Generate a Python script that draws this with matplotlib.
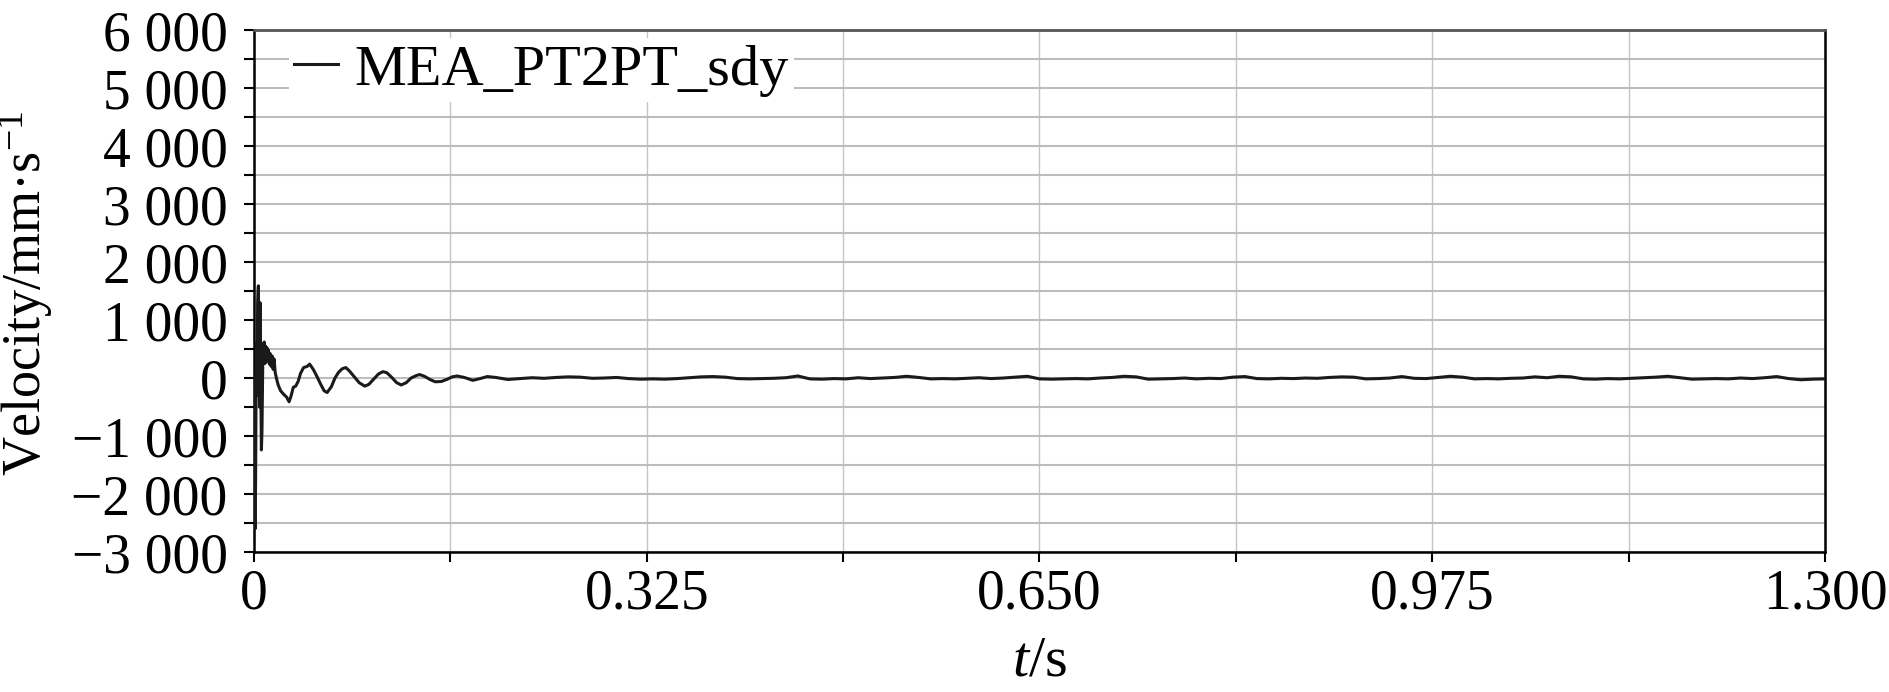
#!/usr/bin/env python3
"""
MEA_PT2PT_sdy 速度响应曲线
"""

import numpy as np
import matplotlib
matplotlib.use('Agg')
import matplotlib.pyplot as plt
from matplotlib.ticker import MultipleLocator, FuncFormatter

matplotlib.rcParams['font.family'] = ['Liberation Serif', 'DejaVu Serif']
matplotlib.rcParams['mathtext.fontset'] = 'custom'
matplotlib.rcParams['mathtext.rm'] = 'Liberation Serif'
matplotlib.rcParams['mathtext.it'] = 'Liberation Serif:italic'
matplotlib.rcParams['axes.unicode_minus'] = True

# 起始冲击段 (t / s, v / mm·s^-1)
t_early = [0.0, 0.0004, 0.0009, 0.0013, 0.0019, 0.0024, 0.0030, 0.0036, 0.0041,
           0.0046, 0.0050, 0.0055, 0.0061, 0.0066, 0.0072, 0.0080, 0.0085,
           0.0090, 0.0096, 0.0102, 0.0108, 0.0114, 0.0120, 0.0127, 0.0134,
           0.0142, 0.0150, 0.0158, 0.0166, 0.0175, 0.0185, 0.0200, 0.0220,
           0.0245, 0.0270, 0.0290, 0.0305, 0.0325, 0.0345, 0.0365, 0.0385,
           0.0410, 0.0440, 0.0460, 0.0490, 0.0520, 0.0550, 0.0580, 0.0605,
           0.0640, 0.0670, 0.0700, 0.0730, 0.0760, 0.0790, 0.0830, 0.0870,
           0.0916, 0.0950, 0.0990, 0.1030, 0.1067, 0.1100, 0.1140, 0.1180,
           0.1218, 0.1260, 0.1300, 0.1340, 0.1370, 0.1410, 0.1460, 0.1500,
           0.1550, 0.1600, 0.1640, 0.1680, 0.1740, 0.1810, 0.1870, 0.1930]
v_early = [0, -500, -2600, -1800, 600, -300, 1300, 1590, 200,
           -500, 1300, 200, -1240, -900, 200, 600, 620,
           250, 550, 280, 520, 300, 480, 240, 420,
           200, 380, 150, 330, 100, 0, -120, -220,
           -280, -330, -410, -320, -160, -140, -60, 80,
           180, 200, 240, 150, 30, -100, -220, -250,
           -150, 0, 100, 160, 180, 120, 20, -80,
           -140, -110, -20, 70, 110, 90, 10, -80,
           -120, -80, 0, 40, 60, 30, -30, -65,
           -60, -20, 20, 35, 10, -40, -10, 25]

# 稳定段，每 0.01 s 读一个点
t_flat = np.round(np.arange(0.20, 1.3001, 0.01), 2)
v_flat = [10, -25, -10, 5, -5, 10, 20, 15, -5, 0,
          10, -10, -20, -15, -20, -10, 5, 20, 25, 15,
          -10, -15, -10, -5, 5, 35, -15, -20, -10, -15,
          5, -10, 0, 10, 30, 10, -15, -10, -15, -5,
          5, -10, 0, 15, 30, -15, -20, -15, -10, -15,
          0, 10, 30, 20, -20, -15, -10, 0, -15, -5,
          -10, 15, 25, -10, -15, -5, -10, 0, -5, 10,
          20, 15, -15, -10, 0, 25, -5, -10, 10, 30,
          15, -15, -10, -15, -5, 0, 20, 5, 30, 20,
          -15, -20, -10, -15, -5, 5, 15, 30, 5, -20,
          -15, -10, -15, 0, -10, 5, 25, -10, -30, -20, -15]

x_ticks = [0, 0.325, 0.650, 0.975, 1.300]
x_tick_labels = ['0', '0.325', '0.650', '0.975', '1.300']
series_name = 'MEA_PT2PT_sdy'


def fmt_y(v, pos):
    s = f'{abs(int(round(v))):,}'.replace(',', ' ')
    return ('\u2212' + s) if v < 0 else s


def main():
    t = np.concatenate([t_early, t_flat])
    v = np.concatenate([v_early, v_flat])

    fig = plt.figure(figsize=(18.9, 6.92), dpi=100)
    ax = fig.add_axes([0.1344, 0.2023, 0.8312, 0.7543])

    ax.plot(t, v, color='#1a1a1a', linewidth=2.2, label=series_name, zorder=3)

    ax.set_xlim(0, 1.3)
    ax.set_ylim(-3000, 6000)

    ax.set_xticks(x_ticks)
    ax.set_xticklabels(x_tick_labels)
    ax.xaxis.set_minor_locator(MultipleLocator(0.1625))
    ax.yaxis.set_major_locator(MultipleLocator(1000))
    ax.yaxis.set_minor_locator(MultipleLocator(500))
    ax.yaxis.set_major_formatter(FuncFormatter(fmt_y))

    ax.grid(True, which='both', axis='y', color='#bdbdbd', linewidth=1.5)
    ax.grid(True, which='both', axis='x', color='#c4c4c4', linewidth=1.0)
    ax.set_axisbelow(True)

    ax.tick_params(which='both', direction='out', length=7, width=1.5, color='black')
    ax.tick_params(axis='y', labelsize=40, pad=12)
    ax.tick_params(axis='x', labelsize=40, pad=5)

    for side in ['left', 'right', 'bottom']:
        ax.spines[side].set_color('black')
        ax.spines[side].set_linewidth(1.8)
    ax.spines['top'].set_color('#555555')
    ax.spines['top'].set_linewidth(2.0)

    # 纵轴标题直接放在图上，避免被裁切
    fig.text(26 / 1890, 1 - 293 / 692, 'Velocity/mm\u00b7s$^{-1}$', fontsize=39,
             rotation=90, ha='center', va='center')
    ax.set_xlabel('$t$/s', fontsize=42)
    ax.xaxis.set_label_coords(0.5, -0.16)

    ax.legend(loc='upper left', bbox_to_anchor=(0.022, 0.985), borderaxespad=0,
              frameon=True, fancybox=False, edgecolor='none', facecolor='white',
              framealpha=1, fontsize=42, handlelength=0.75, handletextpad=0.27,
              borderpad=0.1)

    fig.savefig('out.png', dpi=100)
    plt.close(fig)


if __name__ == '__main__':
    main()
